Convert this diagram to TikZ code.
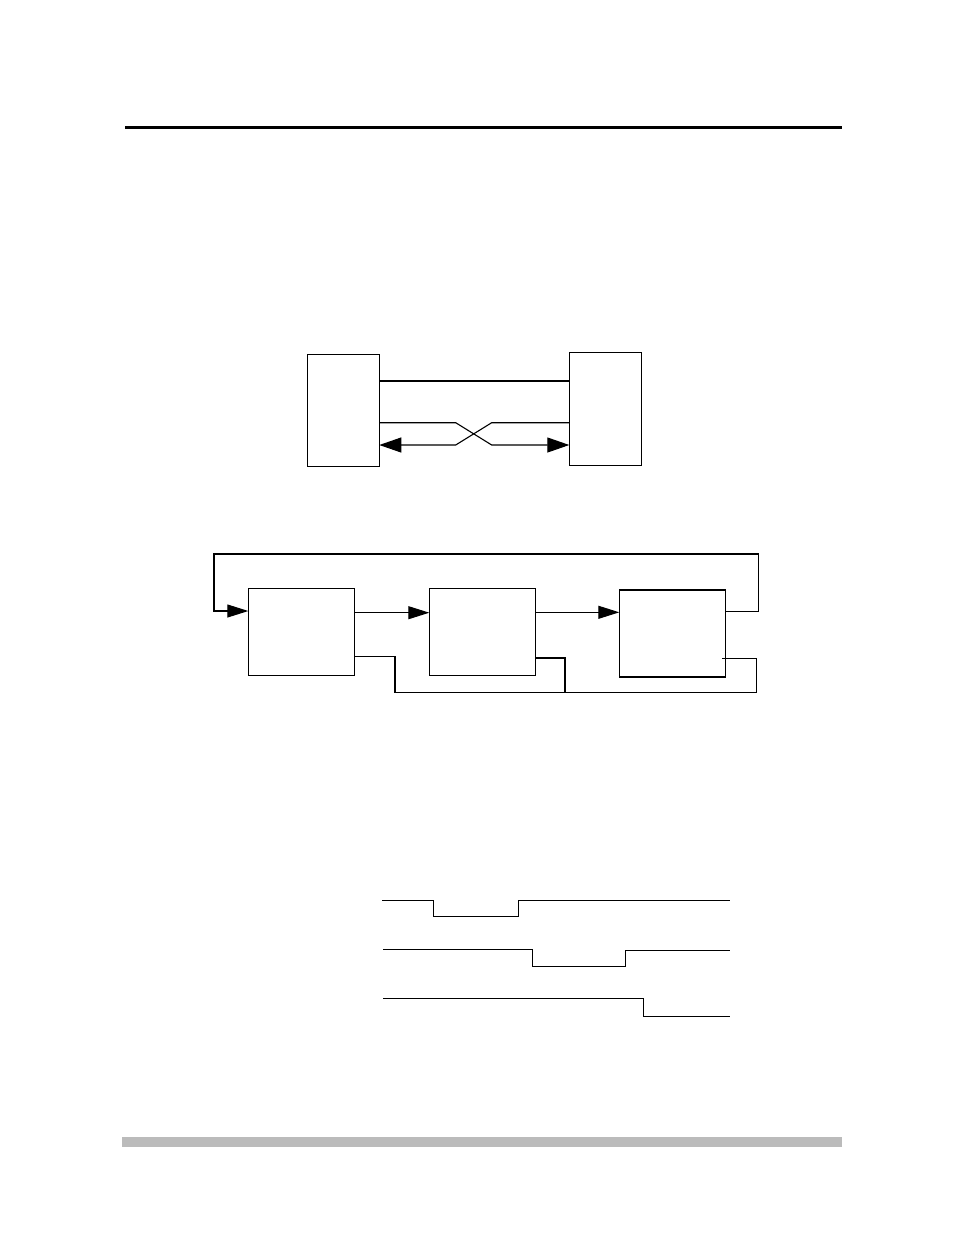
\documentclass[tikz,border=0pt]{standalone}
\usepackage[svgnames]{xcolor}
\usepackage{tikz}
\usetikzlibrary{arrows.meta}

\tikzset{
  box/.style={draw=drawColor,line width=1.2pt,inner sep=0pt,outer sep=0pt},
  wire/.style={draw=drawColor,line width=1.1pt,line join=miter},
  sig/.style={wire,-{Triangle[length=21pt,width=13pt]}},
  bigsig/.style={wire,-{Triangle[length=22pt,width=15pt]}},
  wave/.style={draw=drawColor,line width=1pt,line join=miter}
}

\begin{document}
\begin{tikzpicture}[x=1pt,y=-1pt]
\definecolor{fillColor}{RGB}{255,255,255}
\definecolor{drawColor}{RGB}{0,0,0}
\definecolor{barColor}{RGB}{187,187,187}
\path[use as bounding box,fill=fillColor] (0,0) rectangle (954,1235);

% page rules
\path[draw=drawColor,line width=2.5pt] (125,127.5) -- (842,127.5);
\path[fill=barColor] (122,1137) rectangle (842,1147);

% two stations, crossed pair
\node[box,minimum width=71.6pt,minimum height=112.4pt] (dte) at (343.5,410.5) {};
\node[box,minimum width=72.4pt,minimum height=113pt] (dce) at (605.5,409.2) {};

\draw[wire] ([yshift=29.5pt]dte.east) -- ([yshift=28.2pt]dce.west);
\draw[bigsig] ([yshift=-12.2pt]dte.east) -- ++(76.4,0) -- ++(36,22.3) -- ([yshift=-35.8pt]dce.west);
\draw[bigsig] ([yshift=-13.5pt]dce.west) -- ++(-77.6,0) -- ++(-36,22.3) -- ([yshift=-34.5pt]dte.east);

% three stages in a ring
\node[box,minimum width=106pt,minimum height=87.4pt] (stA) at (301.3,632) {};
\node[box,minimum width=106pt,minimum height=87.4pt] (stB) at (482.3,632) {};
\node[box,minimum width=106pt,minimum height=87pt] (stC) at (672.3,633.5) {};

\draw[sig] ([yshift=19.3pt]stA.east) -- ([yshift=19.3pt]stB.west);
\draw[sig] ([yshift=19.7pt]stB.east) -- ([yshift=21.2pt]stC.west);

% feedback over the top
\draw[sig] ([yshift=22.2pt]stC.east) -- ++(33,0) -- ++(0,-57.3)
  -| ([xshift=-34.3pt,yshift=21pt]stA.west) -- ([yshift=21pt]stA.west);

% return lines underneath
\draw[wire] ([yshift=-24.7pt]stA.east) -- ++(40.7,0)
  |- ([xshift=31.4pt,yshift=-59.2pt]stC.east) |- ([xshift=-3.6pt,yshift=-24.8pt]stC.east);
\draw[wire] ([yshift=-26pt]stB.east) -- ++(29.7,0) -- ++(0,34.7);

% timing
\path[wave] (382.3,900) -- (433.3,900) -- (433.3,916.7) -- (518.3,916.7) -- (518.3,900) -- (730,900);
\path[wave] (383.3,949.3) -- (532.3,949.3) -- (532.3,966) -- (625,966) -- (625,950.7) -- (730,950.7);
\path[wave] (383.3,998.3) -- (643.3,998.3) -- (643.3,1016) -- (730,1016);
\end{tikzpicture}
\end{document}
